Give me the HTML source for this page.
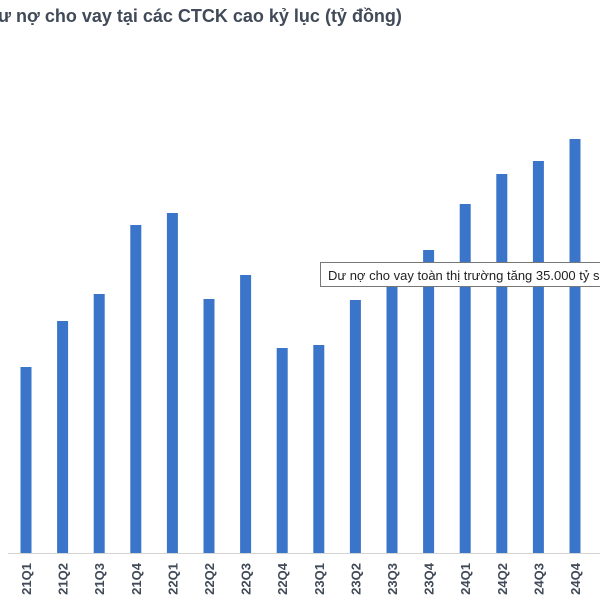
<!DOCTYPE html>
<html><head><meta charset="utf-8">
<style>
html,body{margin:0;padding:0;background:#fff;}
body{width:600px;height:600px;position:relative;overflow:hidden;font-family:"Liberation Sans",sans-serif;}
#title{position:absolute;left:-15px;top:6px;font-size:18px;font-weight:bold;color:#404a58;white-space:nowrap;}
#tooltip{position:absolute;left:320px;top:262px;width:300px;height:25px;border:1px solid #777;background:#fff;font-size:13px;color:#222;line-height:25px;padding-left:7px;white-space:nowrap;box-sizing:border-box;}
</style></head>
<body>
<div id="title">Dư nợ cho vay tại các CTCK cao kỷ lục (tỷ đồng)</div>
<svg id="chart" width="600" height="600" style="position:absolute;left:0;top:0"></svg>
<div id="tooltip">Dư nợ cho vay toàn thị trường tăng 35.000 tỷ sau</div>
<script>
const categories = ["21Q1","21Q2","21Q3","21Q4","22Q1","22Q2","22Q3","22Q4","23Q1","23Q2","23Q3","23Q4","24Q1","24Q2","24Q3","24Q4"];
const values = [111600,139200,155400,196800,204000,152400,166800,123000,124800,151800,170000,181800,209400,227400,235200,248400];
const yMax = 288600;
const plotTop = 72, baseY = 553, x0 = 26, step = 36.6, barW = 11;
function yScale(v){ return baseY - (v / yMax) * (baseY - plotTop); }
function xScale(i){ return x0 + i * step; }
const svg = document.getElementById('chart');
const NS = "http://www.w3.org/2000/svg";
categories.forEach((c, i) => {
  const r = document.createElementNS(NS, 'rect');
  
  
  const y = yScale(values[i]);
  r.setAttribute('x', xScale(i) - barW / 2);
  r.setAttribute('y', y);
  r.setAttribute('width', barW);
  r.setAttribute('height', baseY - y);
  r.setAttribute('fill', '#3a75c9');
  svg.appendChild(r);
  const t = document.createElementNS(NS, 'text');
  
  
  const cx = xScale(i) + 5, cy = 563;
  t.setAttribute('x', cx);
  t.setAttribute('y', cy);
  t.setAttribute('transform', 'rotate(-90 ' + cx + ' ' + cy + ')');
  t.setAttribute('text-anchor', 'end');
  t.setAttribute('font-size', '13');
  t.setAttribute('font-weight', 'bold');
  t.setAttribute('fill', '#404a58');
  t.setAttribute('font-family', 'Liberation Sans, sans-serif');
  t.textContent = c;
  svg.appendChild(t);
});
const ax = document.createElementNS(NS, 'line');


ax.setAttribute('x1', 8); ax.setAttribute('x2', 600);
ax.setAttribute('y1', baseY + 0.5); ax.setAttribute('y2', baseY + 0.5);
ax.setAttribute('stroke', '#d4d4d4'); ax.setAttribute('stroke-width', '1');
svg.appendChild(ax);
</script>
</body></html>
